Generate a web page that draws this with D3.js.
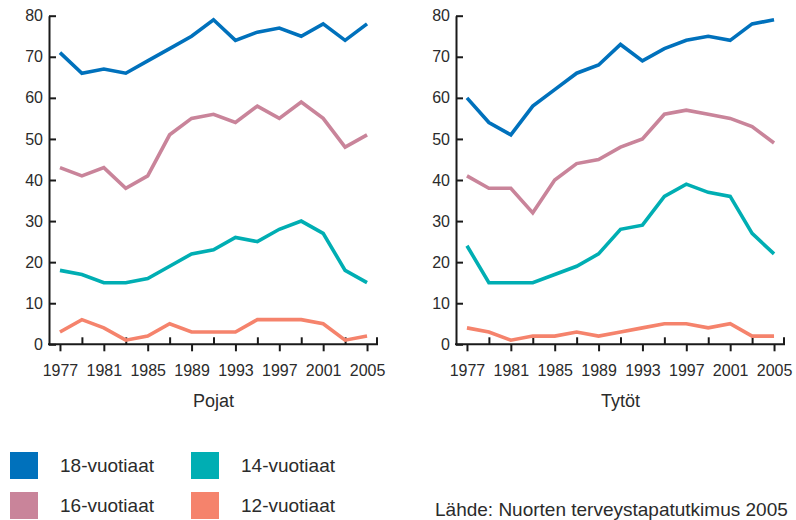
<!DOCTYPE html>
<html>
<head>
<meta charset="utf-8">
<script src="https://cdn.jsdelivr.net/npm/d3@7"></script>
<style>
  html, body { margin: 0; padding: 0; background: #fff; }
  svg { display: block; font-family: "Liberation Sans", Arial, sans-serif; }
</style>
</head>
<body>
<svg id="chart" width="796" height="520"></svg>
<script>
const years = [1977, 1979, 1981, 1983, 1985, 1987, 1989, 1991, 1993, 1995, 1997, 1999, 2001, 2003, 2005];
const labeledYears = [1977, 1981, 1985, 1989, 1993, 1997, 2001, 2005];
const yTicks = [0, 10, 20, 30, 40, 50, 60, 70, 80];

const seriesNames = ["18-vuotiaat", "16-vuotiaat", "14-vuotiaat", "12-vuotiaat"];
const seriesColors = ["#0071bc", "#c9849a", "#00aeb3", "#f5836c"];

// Pojat
const boys18 = [71, 66, 67, 66, 69, 72, 75, 79, 74, 76, 77, 75, 78, 74, 78];
const boys16 = [43, 41, 43, 38, 41, 51, 55, 56, 54, 58, 55, 59, 55, 48, 51];
const boys14 = [18, 17, 15, 15, 16, 19, 22, 23, 26, 25, 28, 30, 27, 18, 15];
const boys12 = [3, 6, 4, 1, 2, 5, 3, 3, 3, 6, 6, 6, 5, 1, 2];

// Tytöt
const girls18 = [60, 54, 51, 58, 62, 66, 68, 73, 69, 72, 74, 75, 74, 78, 79];
const girls16 = [41, 38, 38, 32, 40, 44, 45, 48, 50, 56, 57, 56, 55, 53, 49];
const girls14 = [24, 15, 15, 15, 17, 19, 22, 28, 29, 36, 39, 37, 36, 27, 22];
const girls12 = [4, 3, 1, 2, 2, 3, 2, 3, 4, 5, 5, 4, 5, 2, 2];

const panelTitles = ["Pojat", "Tytöt"];
const sourceText = "Lähde: Nuorten terveystapatutkimus 2005";

const svg = d3.select("#chart");
const textColor = "#2b2b2b";
const axisColor = "#1a1a1a";

const yScale = d3.scaleLinear().domain([0, 80]).range([344.3, 15.7]);

function drawPanel(x0, x1, data, title) {
  const g = svg.append("g");
  const step = (x1 - x0) / years.length;
  const xScale = d3.scalePoint().domain(years).range([x0 + step / 2, x1 - step / 2]);

  // y axis
  const yAxis = d3.axisLeft(yScale).tickValues(yTicks).tickSize(-7).tickSizeOuter(0).tickPadding(6);
  const ya = g.append("g").attr("transform", `translate(${x0},0)`).call(yAxis);
  ya.select(".domain").attr("stroke", axisColor).attr("stroke-width", 2);
  ya.selectAll(".tick line").attr("stroke", axisColor).attr("stroke-width", 2);
  ya.selectAll(".tick text").attr("fill", textColor).style("font-size", "16px")
    .style("font-family", "'Liberation Sans', Arial, sans-serif");

  const y0 = yScale(0);
  // x axis line
  g.append("line").attr("x1", x0 - 1).attr("x2", x1).attr("y1", y0).attr("y2", y0)
    .attr("stroke", axisColor).attr("stroke-width", 2);

  // labeled ticks (downward)
  const xAxis = d3.axisBottom(xScale).tickValues(labeledYears).tickSize(7).tickPadding(13).tickSizeOuter(0);
  const xa = g.append("g").attr("transform", `translate(0,${y0})`).call(xAxis);
  xa.select(".domain").remove();
  xa.selectAll(".tick line").attr("stroke", axisColor).attr("stroke-width", 2);
  xa.selectAll(".tick text").attr("fill", textColor).style("font-size", "16px")
    .style("font-family", "'Liberation Sans', Arial, sans-serif");

  // unlabeled ticks (upward)
  const minorYears = years.filter(yv => !labeledYears.includes(yv));
  const xAxisTop = d3.axisTop(xScale).tickValues(minorYears).tickSize(7).tickFormat("").tickSizeOuter(0);
  const xt = g.append("g").attr("transform", `translate(0,${y0})`).call(xAxisTop);
  xt.select(".domain").remove();
  xt.selectAll(".tick line").attr("stroke", axisColor).attr("stroke-width", 2);
  // end tick
  g.append("line").attr("x1", x1 - 1).attr("x2", x1 - 1).attr("y1", y0).attr("y2", y0 - 7)
    .attr("stroke", axisColor).attr("stroke-width", 2);

  // lines
  const line = d3.line().x((d, i) => xScale(years[i])).y(d => yScale(d));
  data.forEach((vals, si) => {
    g.append("path").datum(vals).attr("d", line)
      .attr("fill", "none").attr("stroke", seriesColors[si])
      .attr("stroke-width", 3.6).attr("stroke-linejoin", "miter").attr("stroke-linecap", "butt");
  });

  g.append("text").attr("x", (x0 + x1) / 2).attr("y", 406.5).attr("text-anchor", "middle")
    .attr("fill", textColor).style("font-size", "18px").text(title);
}

drawPanel(49, 378, [boys18, boys16, boys14, boys12], panelTitles[0]);
drawPanel(456, 785, [girls18, girls16, girls14, girls12], panelTitles[1]);

// legend
const legendPos = [[10, 452], [10, 492], [191, 452], [191, 492]];
const legendOrder = [0, 1, 2, 3];
legendOrder.forEach((si, i) => {
  const [lx, ly] = legendPos[i];
  svg.append("rect").attr("x", lx).attr("y", ly).attr("width", 28).attr("height", 27)
    .attr("fill", seriesColors[si]);
  svg.append("text").attr("x", lx + 50).attr("y", ly + 13.5).attr("dy", "0.35em")
    .attr("fill", textColor).style("font-size", "19px").text(seriesNames[si]);
});

svg.append("text").attr("x", 435).attr("y", 515.5).attr("fill", textColor)
  .style("font-size", "19px").text(sourceText);
</script>
</body>
</html>
